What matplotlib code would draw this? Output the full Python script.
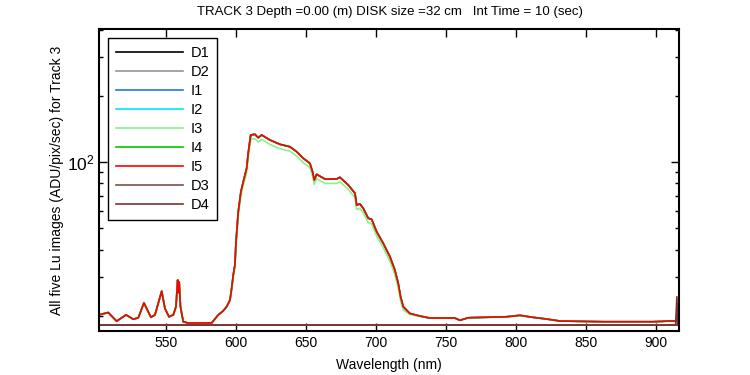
import matplotlib
matplotlib.use("Agg")
import matplotlib.pyplot as plt
from matplotlib.ticker import LogLocator, NullFormatter, FixedLocator

plt.rcParams['font.family'] = ['Liberation Sans', 'DejaVu Sans']

# Wavelength grid (nm) for the Lu image series
wl = [502, 508.6, 514.6, 521.3, 526.5, 530.1, 534.1, 539.1, 542.0, 546.8, 549.1,
      552.0, 555.1, 557.0, 558.2, 558.8, 559.3, 560.2, 562.2, 565.6, 582.5, 587.2,
      590.5, 593.2, 595.6, 596.8, 597.9, 599.1, 599.9, 601.5, 603.4, 605.1, 607.5,
      608.6, 610.4, 613.4, 615.8, 618.2, 624.1, 631.3, 638.4, 643.2, 647.9, 652.7,
      654.6, 655.8, 657.5, 663.4, 671.8, 674.1, 680.1, 684.9, 686.1, 688.4, 690.8,
      694.4, 696.8, 700.4, 705.1, 709.9, 713.4, 715.8, 717.5, 719.4, 724.1, 731.3,
      738.4, 756.3, 759.9, 765.8, 793.2, 802.7, 812.2, 821.8, 831.3, 862.2, 897.9,
      909.9, 914.9]

I5 = [20.2, 20.7, 18.9, 20.2, 19.3, 19.6, 22.9, 19.7, 20.2, 25.9, 21.6,
      19.8, 20.2, 22.0, 29.1, 25.5, 28.5, 22.0, 18.8, 18.55, 18.55, 20.2,
      21.0, 22.0, 23.6, 26.7, 30.6, 34.0, 43.4, 59.4, 73.3, 81.4, 93.6,
      109.5, 132.7, 133.6, 128.9, 132.7, 125.9, 120.3, 117.3, 111.4, 104.0, 98.6,
      90.3, 82.8, 87.9, 83.7, 83.7, 85.2, 78.6, 72.1, 63.7, 64.5, 61.6,
      55.5, 54.9, 48.2, 42.7, 37.1, 32.3, 28.1, 24.4, 22.0, 20.5, 19.95,
      19.54, 19.54, 19.08, 19.6, 19.8, 20.1, 19.68, 19.34, 18.94, 18.8, 18.8,
      18.94, 18.94]

I3 = [20.2, 20.7, 18.9, 20.2, 19.3, 19.6, 22.9, 19.7, 20.2, 25.9, 21.6,
      19.8, 20.2, 22.0, 29.1, 25.5, 28.5, 22.0, 18.8, 18.55, 18.55, 20.2,
      21.0, 22.0, 23.3, 26.2, 30.0, 33.0, 41.5, 57.0, 70.5, 78.5, 89.4,
      104.6, 126.7, 127.6, 123.1, 126.7, 120.2, 114.9, 112.0, 106.4, 99.3, 94.2,
      86.2, 79.1, 83.9, 79.9, 79.9, 81.4, 75.1, 68.9, 60.8, 61.6, 58.8,
      53.0, 52.4, 46.0, 40.8, 35.4, 30.8, 26.8, 23.3, 21.3, 20.3, 19.9,
      19.5, 19.5, 19.08, 19.6, 19.8, 20.1, 19.68, 19.34, 18.94, 18.8, 18.8,
      18.94, 18.94]

I1 = I5
I2 = I5
I4 = I5

# Dark series
d_wl = [502, 914.0, 914.9, 915.5]
D1 = [18.15, 18.15, 18.15, 18.15]
D2 = [18.2, 18.2, 18.2, 18.2]
D3 = [18.15, 18.15, 18.3, 18.15]
D4 = [18.15, 18.15, 24.4, 18.15]

series = [
    ("D1", d_wl, D1, "#000000"),
    ("D2", d_wl, D2, "#969696"),
    ("I1", wl, I1, "#1e78dc"),
    ("I2", wl, I2, "#00e6f0"),
    ("I3", wl, I3, "#8cf08c"),
    ("I4", wl, I4, "#00c800"),
    ("I5", wl, I5, "#ff0000"),
    ("D3", d_wl, D3, "#7d5050"),
    ("D4", d_wl, D4, "#7d3232"),
]

fig = plt.figure(figsize=(7.5, 3.75), dpi=100)
ax = fig.add_axes([0.132, 0.1173, 0.7733, 0.8053])

for name, x, y, c in series:
    ax.plot(x, y, color=c, lw=1.2, label=name)

ax.set_yscale('log')
ax.set_xlim(502, 916.4)
ax.set_ylim(17.06, 402)

ax.xaxis.set_major_locator(FixedLocator([550, 600, 650, 700, 750, 800, 850, 900]))
ax.yaxis.set_major_locator(LogLocator(base=10))
ax.yaxis.set_minor_locator(LogLocator(base=10, subs=range(2, 10)))
ax.yaxis.set_minor_formatter(NullFormatter())

ax.tick_params(which='both', direction='in', top=True, right=True, labelsize=10)
ax.tick_params(axis='y', labelsize=12.5)
ax.tick_params(which='major', length=6, width=1)
ax.tick_params(which='minor', length=3, width=1)
for s in ax.spines.values():
    s.set_linewidth(1.5)

ax.set_xlabel("Wavelength (nm)", fontsize=10, labelpad=6)
ax.set_ylabel("All five Lu images (ADU/pix/sec) for Track 3", fontsize=10, labelpad=2)
fig.text(0.52, 0.968, "TRACK 3 Depth =0.00 (m) DISK size =32 cm   Int Time = 10 (sec)",
         ha='center', va='center', fontsize=9.5)

leg = ax.legend(loc='upper left', bbox_to_anchor=(0.0155, 0.970), borderaxespad=0,
                fancybox=False, edgecolor='black', framealpha=1, fontsize=10.5,
                handlelength=4.6, handletextpad=0.5, labelspacing=0.34,
                borderpad=0.55)
leg.get_frame().set_linewidth(1.0)

fig.savefig("out.png", dpi=100)
